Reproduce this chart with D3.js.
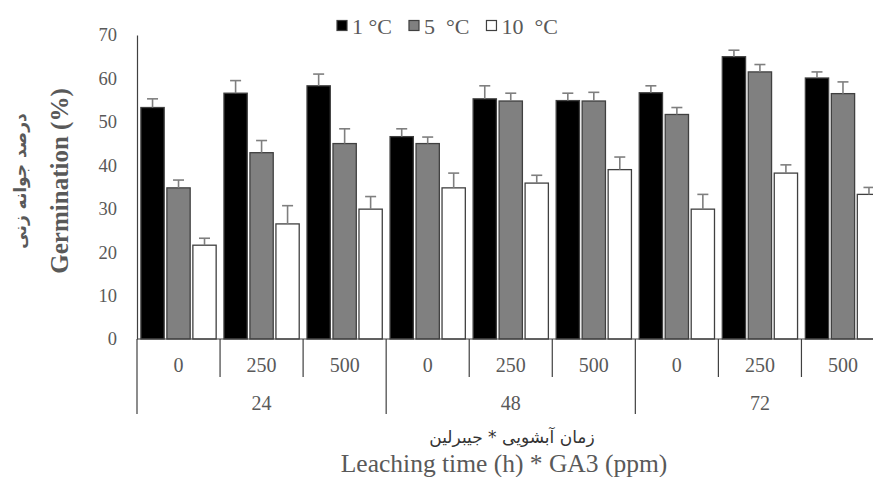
<!DOCTYPE html>
<html>
<head>
<meta charset="utf-8">
<script src="https://cdn.jsdelivr.net/npm/d3@7"></script>
<style>
  html, body { margin: 0; padding: 0; background: #fff; }
  svg text { font-family: "Liberation Serif", "DejaVu Sans", serif; white-space: pre; }
</style>
</head>
<body>
<svg id="chart" width="873" height="477"></svg>
<script>
// ---- data ----
const leachTimes = ["24", "48", "72"];
const ga3Levels = ["0", "250", "500"];
const seriesNames = ["1 °C", "5  °C", "10  °C"];
const seriesColors = ["#000000", "#808080", "#ffffff"];
const yTicks = [0, 10, 20, 30, 40, 50, 60, 70];
// values per category (24/0, 24/250, 24/500, 48/0, ... 72/500)
const temp1 = [53.3, 56.6, 58.3, 46.6, 55.3, 54.9, 56.7, 65.0, 60.1];
const temp5 = [34.8, 42.9, 45.0, 45.0, 54.8, 54.8, 51.7, 61.5, 56.5];
const temp10 = [21.6, 26.5, 29.9, 34.8, 35.9, 39.0, 29.9, 38.2, 33.3];
const err1 = [2.0, 2.9, 2.7, 1.8, 3.0, 1.7, 1.6, 1.5, 1.4];
const err5 = [1.8, 2.8, 3.4, 1.5, 1.8, 2.0, 1.6, 1.7, 2.7];
const err10 = [1.6, 4.2, 2.9, 3.4, 1.8, 2.9, 3.4, 1.9, 1.6];
const yTitleFa = "درصد جوانه زنی";
const yTitleEn = "Germination (%)";
const xTitleFa = "زمان آبشویی * جیبرلین";
const xTitleEn = "Leaching time (h) * GA3 (ppm)";

const values = [temp1, temp5, temp10];
const errors = [err1, err5, err10];

// ---- layout ----
const svg = d3.select("#chart");
const mLeft = 137, mRight = 884.5, mTop = 35, mBottom = 339;
const textColor = "#595959";
const lineColor = "#404040";

const cats = [];
leachTimes.forEach(t => ga3Levels.forEach(g => cats.push({ t, g, key: t + "_" + g })));

const x = d3.scaleBand().domain(cats.map(c => c.key)).range([mLeft, mRight]).padding(0);
const xs = d3.scaleBand().domain(d3.range(seriesNames.length)).range([0, x.bandwidth()])
  .paddingInner(0.104).paddingOuter(0.15);
const y = d3.scaleLinear().domain([0, 70]).range([mBottom, mTop]);

// y axis
const yAxis = d3.axisLeft(y).tickValues(yTicks).tickSize(0).tickPadding(20);
const gy = svg.append("g").attr("transform", `translate(${mLeft},0)`).call(yAxis);
gy.select(".domain").attr("stroke", lineColor).attr("stroke-width", 1.2);
gy.selectAll("text").attr("fill", textColor).attr("font-size", 18.5)
  .attr("font-family", '"Liberation Serif", serif');

// bars
const barData = [];
cats.forEach((c, i) => {
  values.forEach((vals, s) => barData.push({ key: c.key, s, v: vals[i], e: errors[s][i] }));
});

const gBars = svg.append("g");
gBars.selectAll("rect").data(barData).join("rect")
  .attr("x", d => x(d.key) + xs(d.s))
  .attr("y", d => y(d.v))
  .attr("width", xs.bandwidth())
  .attr("height", d => y(0) - y(d.v))
  .attr("fill", d => seriesColors[d.s])
  .attr("stroke", lineColor)
  .attr("stroke-width", 1.3);

// error bars
const gErr = svg.append("g").attr("stroke", "#7f7f7f").attr("stroke-width", 1.6);
barData.forEach(d => {
  const cx = x(d.key) + xs(d.s) + xs.bandwidth() / 2;
  gErr.append("line").attr("x1", cx).attr("x2", cx).attr("y1", y(d.v)).attr("y2", y(d.v + d.e));
  gErr.append("line").attr("x1", cx - 5.5).attr("x2", cx + 5.5).attr("y1", y(d.v + d.e)).attr("y2", y(d.v + d.e));
});

// x axis baseline
svg.append("line").attr("x1", mLeft).attr("x2", mRight).attr("y1", mBottom).attr("y2", mBottom)
  .attr("stroke", lineColor).attr("stroke-width", 1.2);

// dividers
const gDiv = svg.append("g").attr("stroke", lineColor).attr("stroke-width", 1.2);
cats.forEach((c, i) => {
  const xx = x(c.key);
  const isGroup = i % ga3Levels.length === 0;
  gDiv.append("line").attr("x1", xx).attr("x2", xx).attr("y1", mBottom).attr("y2", isGroup ? 414 : 377);
});
gDiv.append("line").attr("x1", mRight).attr("x2", mRight).attr("y1", mBottom).attr("y2", 414);

// category labels
svg.append("g").selectAll("text").data(cats).join("text")
  .attr("x", c => x(c.key) + x.bandwidth() / 2)
  .attr("y", 372)
  .attr("text-anchor", "middle")
  .attr("font-size", 20)
  .attr("fill", textColor)
  .text(c => c.g);

// group labels
svg.append("g").selectAll("text").data(leachTimes).join("text")
  .attr("x", (t, i) => x(cats[i * 3 + 1].key) + x.bandwidth() / 2)
  .attr("y", 410)
  .attr("text-anchor", "middle")
  .attr("font-size", 20)
  .attr("fill", textColor)
  .text(t => t);

// x titles
const xMid = 504;
svg.append("text").attr("x", 512).attr("y", 443).attr("text-anchor", "middle")
  .attr("font-size", 17).attr("fill", "#333333").attr("direction", "rtl")
  .style("font-family", '"DejaVu Sans", sans-serif')
  .text(xTitleFa);
svg.append("text").attr("x", xMid).attr("y", 472).attr("text-anchor", "middle")
  .attr("font-size", 25.5).attr("fill", textColor)
  .text(xTitleEn);

// y titles
svg.append("text").attr("transform", "translate(26,181) rotate(-90)")
  .attr("text-anchor", "middle").attr("font-size", 17).attr("font-weight", "bold")
  .attr("fill", textColor)
  .style("font-family", '"DejaVu Sans", sans-serif')
  .text(yTitleFa);
svg.append("text").attr("transform", "translate(68,181) rotate(-90)")
  .attr("text-anchor", "middle").attr("font-size", 25).attr("font-weight", "bold")
  .attr("fill", textColor)
  .text(yTitleEn);

// legend
const gLeg = svg.append("g");
let lx = 337;
seriesNames.forEach((name, i) => {
  gLeg.append("rect").attr("x", lx).attr("y", 20.5).attr("width", 10).attr("height", 10)
    .attr("fill", seriesColors[i]).attr("stroke", lineColor).attr("stroke-width", 1.2);
  const t = gLeg.append("text").attr("x", lx + 15).attr("y", 33.5)
    .attr("font-size", 22).attr("fill", textColor).text(name);
  lx += 15 + t.node().getComputedTextLength() + 17;
});
</script>
</body>
</html>
